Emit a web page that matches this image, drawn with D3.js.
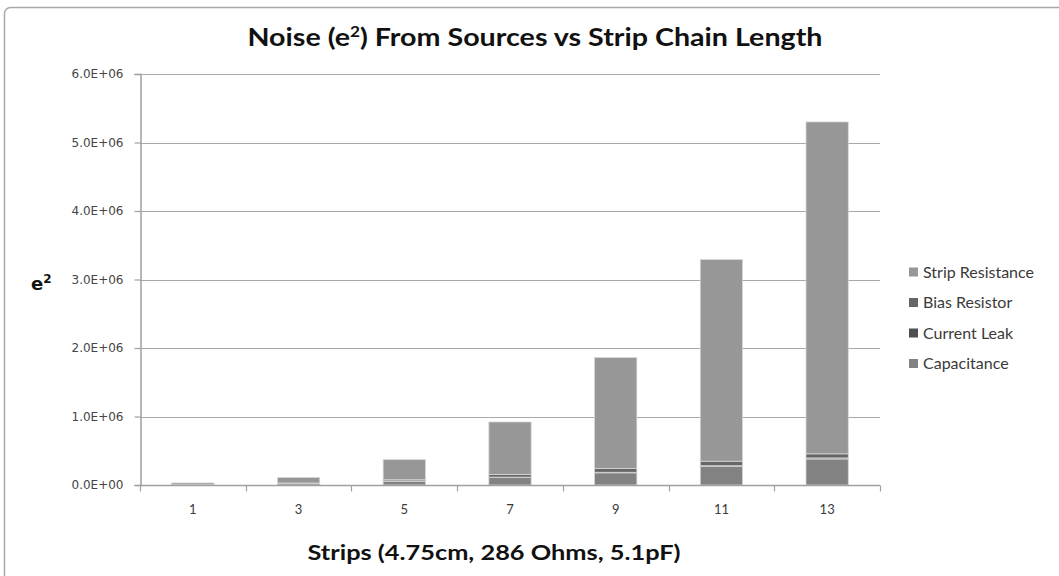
<!DOCTYPE html>
<html>
<head>
<meta charset="utf-8">
<script src="https://cdn.jsdelivr.net/npm/d3@7"></script>
<style>
  html, body { margin: 0; padding: 0; background: #fff; }
  svg { display: block; }
</style>
</head>
<body>
<svg id="chart" width="1059" height="576"></svg>
<script>
// Strip counts along the chain
const strips = ["1", "3", "5", "7", "9", "11", "13"];

// Noise contributions (e^2) per source, stacked bottom to top
const capacitance     = [2200, 20000, 56000, 110000, 178000, 270000, 380000];
const currentLeak     = [500, 1500, 3000, 5000, 8000, 12000, 15000];
const biasResistor    = [2000, 7000, 18000, 40000, 55000, 65000, 60000];
const stripResistance = [25300, 81500, 293000, 765000, 1619000, 2943000, 4845000];

const seriesNames  = ["Capacitance", "Current Leak", "Bias Resistor", "Strip Resistance"];
const seriesColors = ["#828282", "#4f4f4f", "#666666", "#979797"];

const yTicks = [0, 1e6, 2e6, 3e6, 4e6, 5e6, 6e6];

const rows = strips.map((s, i) => ({
  strip: s,
  "Capacitance": capacitance[i],
  "Current Leak": currentLeak[i],
  "Bias Resistor": biasResistor[i],
  "Strip Resistance": stripResistance[i]
}));

const svg = d3.select("#chart");
const plot = { left: 140, right: 880, top: 74, bottom: 485 };

// outer chart frame
svg.append("rect")
  .attr("x", 4.5).attr("y", 7.5)
  .attr("width", 1070).attr("height", 600)
  .attr("rx", 6)
  .attr("fill", "none")
  .attr("stroke", "#a9a9a9")
  .attr("stroke-width", 1.5);

const x = d3.scaleBand().domain(strips).range([plot.left, plot.right]).paddingInner(0.6).paddingOuter(0.3);
const xBound = d3.scaleBand().domain(strips).range([plot.left, plot.right]);
const y = d3.scaleLinear().domain([0, 6e6]).range([plot.bottom, plot.top]);

const sci = v => {
  const [m, e] = v.toExponential(1).split("e");
  const sign = e[0] === "-" ? "-" : "+";
  const digits = e.replace(/[+-]/, "").padStart(2, "0");
  return m + "E" + sign + digits;
};

// horizontal gridlines
svg.append("g")
  .selectAll("line")
  .data(yTicks.filter(d => d > 0))
  .join("line")
  .attr("x1", plot.left).attr("x2", plot.right)
  .attr("y1", d => Math.round(y(d)) + 0.5).attr("y2", d => Math.round(y(d)) + 0.5)
  .attr("stroke", "#a8a8a8").attr("stroke-width", 1);

// stacked bars
const stack = d3.stack().keys(seriesNames)(rows);
svg.append("g")
  .selectAll("g")
  .data(stack)
  .join("g")
  .attr("fill", (d, i) => seriesColors[i])
  .selectAll("rect")
  .data(d => d)
  .join("rect")
  .attr("x", d => x(d.data.strip))
  .attr("width", x.bandwidth())
  .attr("y", d => y(d[1]))
  .attr("height", d => Math.max(0, y(d[0]) - y(d[1])))
  .attr("stroke", "#d6d6d6")
  .attr("stroke-width", 0.8);

// y axis
const yAxis = svg.append("g")
  .attr("transform", `translate(${plot.left + 0.5},0)`)
  .call(d3.axisLeft(y).tickValues(yTicks).tickFormat(sci).tickSize(6).tickPadding(11));
yAxis.attr("font-family", "DejaVu Sans, Verdana, sans-serif").attr("font-size", 12);
yAxis.select(".domain").attr("stroke", "#a0a0a0").attr("stroke-width", 1.5);
yAxis.selectAll(".tick line").attr("stroke", "#a0a0a0").attr("stroke-width", 1.2);
yAxis.selectAll(".tick text")
  .style("font-family", "'DejaVu Sans', Verdana, sans-serif")
  .style("font-size", "12px")
  .attr("fill", "#454545");

// x axis: ticks sit on category boundaries
const xAxisG = svg.append("g").attr("transform", `translate(0,${plot.bottom + 0.5})`);
xAxisG.append("line")
  .attr("x1", plot.left).attr("x2", plot.right)
  .attr("stroke", "#a0a0a0").attr("stroke-width", 1.5);
const bounds = strips.map(s => xBound(s)).concat([plot.right]);
xAxisG.selectAll("line.tk")
  .data(bounds)
  .join("line")
  .attr("class", "tk")
  .attr("x1", d => Math.round(d) + 0.5).attr("x2", d => Math.round(d) + 0.5)
  .attr("y1", 0).attr("y2", 6)
  .attr("stroke", "#a0a0a0").attr("stroke-width", 1.2);
xAxisG.selectAll("text")
  .data(strips)
  .join("text")
  .attr("x", d => xBound(d) + xBound.bandwidth() / 2)
  .attr("y", 28)
  .attr("text-anchor", "middle")
  .attr("font-family", "Lato, 'Open Sans', sans-serif")
  .attr("font-size", 13)
  .attr("fill", "#3a3a3a")
  .text(d => d);

// title
const title = svg.append("text")
  .attr("x", 535).attr("y", 46)
  .attr("text-anchor", "middle")
  .attr("font-family", "Lato, 'Open Sans', sans-serif")
  .attr("font-weight", "bold")
  .attr("font-size", 25)
  .attr("fill", "#111")
  .attr("textLength", 575)
  .attr("lengthAdjust", "spacingAndGlyphs");
title.append("tspan").text("Noise (e");
title.append("tspan").attr("baseline-shift", "super").attr("font-size", 15).text("2");
title.append("tspan").text(") From Sources vs Strip Chain Length");

// y axis title
const yTitle = svg.append("text")
  .attr("x", 31).attr("y", 290)
  .attr("font-family", "DejaVu Sans, Verdana, sans-serif")
  .attr("font-weight", "bold")
  .attr("font-size", 18)
  .attr("fill", "#111");
yTitle.append("tspan").text("e");
yTitle.append("tspan").attr("baseline-shift", "super").attr("font-size", 12).text("2");

// x axis title
svg.append("text")
  .attr("x", 494).attr("y", 560)
  .attr("text-anchor", "middle")
  .attr("font-family", "Lato, 'Open Sans', sans-serif")
  .attr("font-weight", "bold")
  .attr("font-size", 21)
  .attr("fill", "#111")
  .attr("textLength", 373)
  .attr("lengthAdjust", "spacingAndGlyphs")
  .text("Strips (4.75cm, 286 Ohms, 5.1pF)");

// legend, top entry is the top of the stack
const legendItems = seriesNames.map((n, i) => ({ name: n, color: seriesColors[i] })).reverse();
const legend = svg.append("g")
  .selectAll("g")
  .data(legendItems)
  .join("g")
  .attr("transform", (d, i) => `translate(909,${272 + i * 30.5})`);
legend.append("rect")
  .attr("x", 0).attr("y", -4.5)
  .attr("width", 9).attr("height", 9)
  .attr("fill", d => d.color);
legend.append("text")
  .attr("x", 14).attr("y", 5.5)
  .attr("font-family", "Lato, 'Open Sans', sans-serif")
  .attr("font-size", 16)
  .attr("fill", "#3a3a3a")
  .text(d => d.name);
</script>
</body>
</html>
